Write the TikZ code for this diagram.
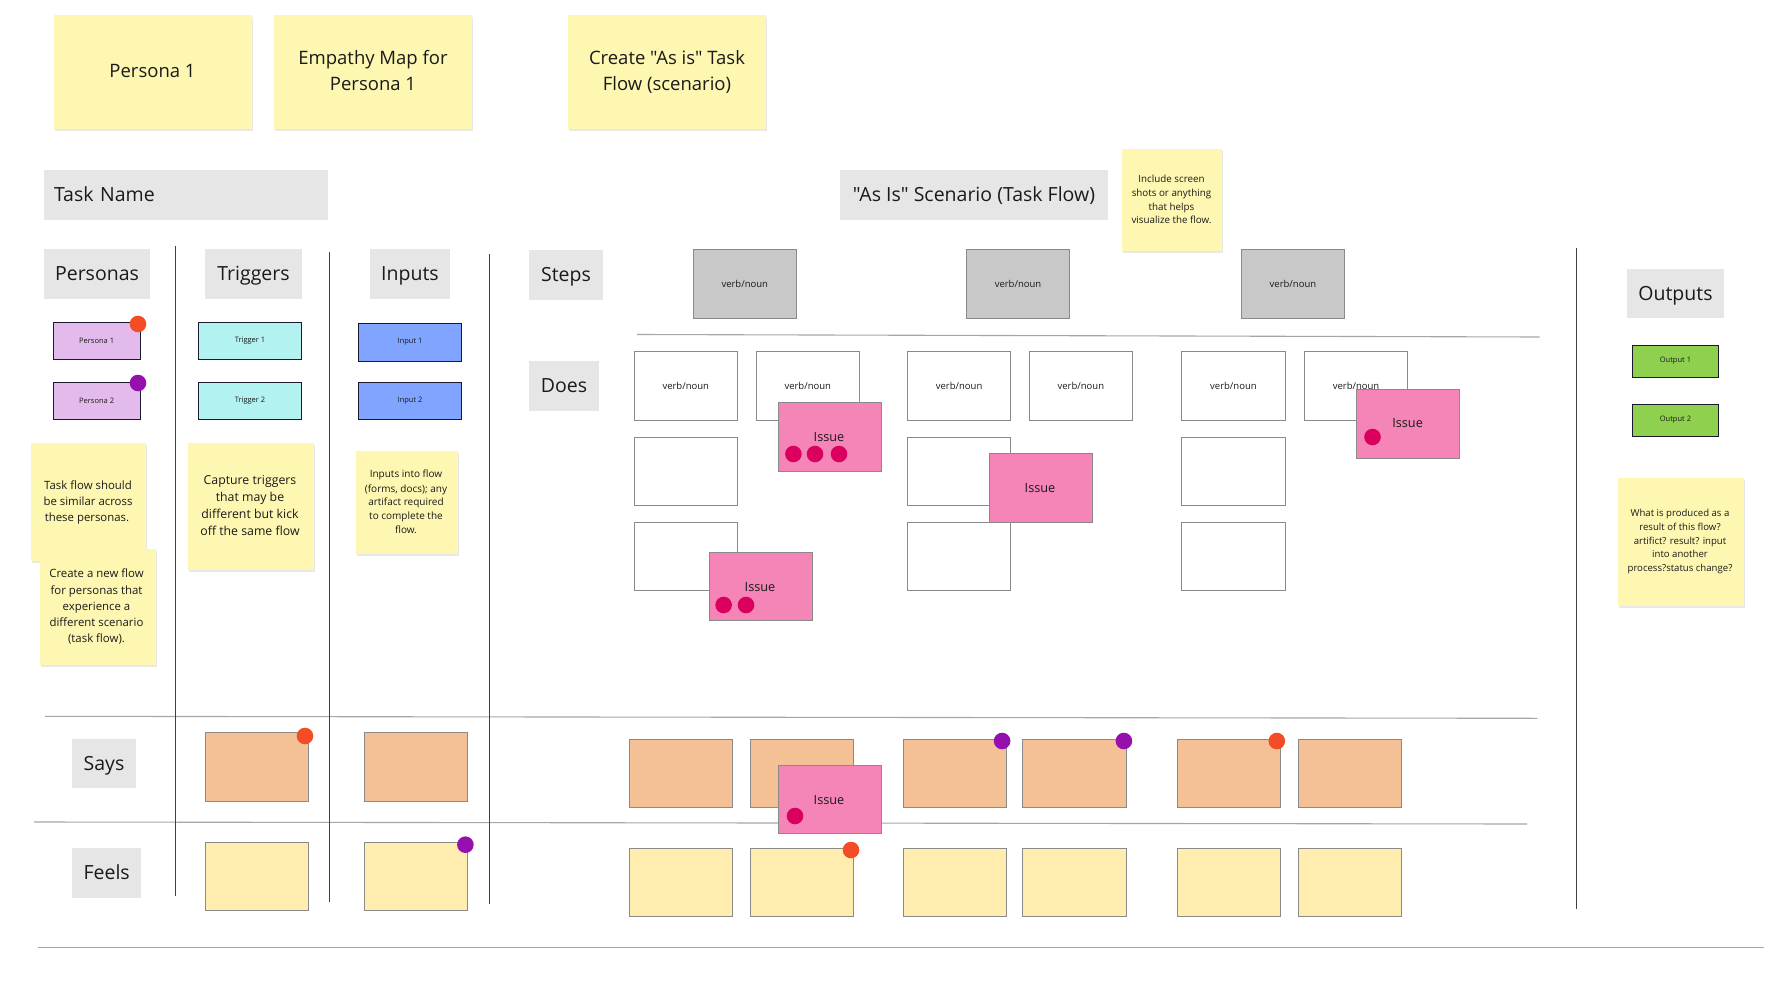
\documentclass[tikz,border=0pt]{standalone}
\usepackage{fontspec}
\setmainfont{Open Sans}[Ligatures=TeXOff]
\usetikzlibrary{shadows}
\definecolor{stickyc}{HTML}{FEF7B1}
\definecolor{headc}{HTML}{E6E6E6}
\definecolor{stepc}{HTML}{C8C8C8}
\definecolor{perc}{HTML}{E3BAEC}
\definecolor{trigc}{HTML}{B2F2F0}
\definecolor{inpc}{HTML}{80A4FF}
\definecolor{outc}{HTML}{8FD14F}
\definecolor{issuec}{HTML}{F485B6}
\definecolor{saysc}{HTML}{F4C095}
\definecolor{feelsc}{HTML}{FEEDAE}
\definecolor{dotr}{HTML}{DB005F}
\definecolor{doto}{HTML}{F44C26}
\definecolor{dotp}{HTML}{9510AC}
\definecolor{edgec}{HTML}{8A8A8A}
\definecolor{darkc}{HTML}{1A1A2E}
\definecolor{txt}{HTML}{1A1A1A}
\newcommand{\fs}[1]{\fontsize{#1}{#1}\selectfont}
\newcommand{\bx}[7]{\node[#2,minimum width={(#5-#3)*1pt},minimum height={(#6-#4)*1pt}] (#1) at ({(#3+#5)/2},{-(#4+#6)/2}) {#7};}
\newcommand{\dt}[4]{\node[dotnode,fill=#2] (#1) at (#3,-#4) {};}
\newcommand{\lbl}[5]{\node[font=\fs{#5},text height={#5*.85pt},text depth={#5*.10pt}] (#1) at (#3,-#4) {#2};}
\tikzset{
  x=1pt,y=1pt,
  every node/.style={inner sep=0pt,outer sep=0pt,text=txt,align=center},
  sticky/.style={fill=stickyc,drop shadow={shadow xshift=1pt,shadow yshift=-2pt,opacity=.18}},
  head/.style={fill=headc,font=\fs{19.5},text height=16.5pt,text depth=2.7pt},
  stepbox/.style={fill=stepc,draw=edgec,line width=1pt,font=\fs{9.5},text height=8.8pt,text depth=.5pt},
  doesbox/.style={fill=white,draw=edgec,line width=.9pt,font=\fs{9.5},text height=8.8pt,text depth=.5pt},
  perbox/.style={fill=perc,draw=darkc,line width=1pt,font=\fs{7.5}},
  trigbox/.style={fill=trigc,draw=darkc,line width=1pt,font=\fs{7.5}},
  inpbox/.style={fill=inpc,draw=darkc,line width=1pt,font=\fs{7.5}},
  outbox/.style={fill=outc,draw=darkc,line width=1pt,font=\fs{7.5}},
  issuebox/.style={fill=issuec,draw=edgec,line width=.9pt},
  saysbox/.style={fill=saysc,draw=edgec,line width=1pt},
  feelsbox/.style={fill=feelsc,draw=edgec,line width=1pt},
  dotnode/.style={circle,minimum size=16.6pt},
  vline/.style={draw=black!75,line width=.9pt},
  hline/.style={draw=black!35,line width=1.1pt}
}
\begin{document}
\begin{tikzpicture}
\useasboundingbox (0,0) rectangle (1778,-990);
\fill[white] (0,0) rectangle (1778,-990);
% lines
\coordinate (v1a) at (175.4,-246);  \coordinate (v1b) at (175.4,-896);
\coordinate (v2a) at (329,-252);    \coordinate (v2b) at (329,-902);
\coordinate (v3a) at (489,-254);    \coordinate (v3b) at (489,-904);
\coordinate (v4a) at (1576.4,-248); \coordinate (v4b) at (1576.4,-909);
\coordinate (h1a) at (637,-334.5);  \coordinate (h1b) at (1539.6,-337);
\coordinate (h2a) at (45,-716.3);   \coordinate (h2b) at (1537.3,-718.3);
\coordinate (h3a) at (34,-822);     \coordinate (h3b) at (1527,-824);
\coordinate (h4a) at (37.5,-947.3); \coordinate (h4b) at (1763.8,-947.3);
\draw[hline] (h1a)--(h1b); \draw[hline] (h2a)--(h2b); \draw[hline] (h3a)--(h3b); \draw[hline] (h4a)--(h4b);
\draw[vline] (v1a)--(v1b); \draw[vline] (v2a)--(v2b); \draw[vline] (v3a)--(v3b); \draw[vline] (v4a)--(v4b);
% top stickies
\bx{s1}{sticky}{54}{15}{252}{129}{}
\lbl{s1a}{Persona 1}{152.5}{70.6}{18.5}
\bx{s2}{sticky}{274}{15}{472}{129}{}
\lbl{s2a}{Empathy Map for}{373}{57.3}{18.5}
\lbl{s2b}{Persona 1}{373}{83.3}{18.5}
\bx{s3}{sticky}{568}{15}{766}{129}{}
\lbl{s3a}{Create "As is" Task}{667}{57.3}{18.5}
\lbl{s3b}{Flow (scenario)}{667}{83.3}{18.5}
% heads
\bx{hTask}{head,text width=264pt,align=left}{44}{170}{328}{220}{Task Name}
\bx{hAs}{head}{840}{170}{1108}{220}{"As Is" Scenario (Task Flow)}
\bx{nInc}{sticky}{1122.2}{149}{1221.9}{251}{}
\lbl{nIa}{Include screen}{1171.5}{178.7}{9.8}
\lbl{nIb}{shots or anything}{1171.5}{192.7}{9.8}
\lbl{nIc}{that helps}{1171.5}{206.7}{9.8}
\lbl{nId}{visualize the flow.}{1171.5}{219.7}{9.8}
\bx{hPer}{head}{44}{249}{150}{299}{Personas}
\bx{hTrig}{head}{205}{249}{302}{299}{Triggers}
\bx{hInp}{head}{370}{249}{450}{299}{Inputs}
\bx{hSteps}{head}{529}{250}{603}{300}{Steps}
\bx{hDoes}{head}{529}{361}{599}{411}{Does}
\bx{hOut}{head}{1626.8}{269}{1724.2}{318}{Outputs}
\bx{hSays}{head}{72}{739}{136}{788}{Says}
\bx{hFeels}{head}{72}{848}{141.3}{898}{Feels}
% small boxes
\bx{p1}{perbox}{53.3}{322}{140}{359}{Persona 1}
\bx{p2}{perbox}{53.3}{382}{140}{419}{Persona 2}
\bx{t1}{trigbox}{198.6}{322}{301.4}{359}{Trigger 1}
\bx{t2}{trigbox}{198.6}{382}{301.4}{419}{Trigger 2}
\bx{i1}{inpbox}{358.7}{323}{461.4}{361}{Input 1}
\bx{i2}{inpbox}{358.7}{382}{461.4}{419}{Input 2}
\bx{o1}{outbox}{1632.4}{345}{1718.5}{377}{Output 1}
\bx{o2}{outbox}{1632.4}{404}{1718.5}{436}{Output 2}
% notes
\bx{n1}{sticky}{30.6}{443}{146.4}{560.7}{}
\lbl{n1a}{Task flow should}{88}{485}{11.4}
\lbl{n1b}{be similar across}{88}{501}{11.4}
\lbl{n1c}{these personas.}{87}{517}{11.4}
\bx{n2}{sticky}{40}{548.7}{156}{665}{}
\lbl{n2a}{Create a new flow}{96.5}{573.7}{11.4}
\lbl{n2b}{for personas that}{96.5}{590}{11.4}
\lbl{n2c}{experience a}{96.5}{606}{11.4}
\lbl{n2d}{different scenario}{96.5}{622}{11.4}
\lbl{n2e}{(task flow).}{96.5}{638}{11.4}
\bx{n3}{sticky}{188}{443}{314}{570}{}
\lbl{n3a}{Capture triggers}{250}{480}{12.3}
\lbl{n3b}{that may be}{250}{497}{12.3}
\lbl{n3c}{different but kick}{250}{513.5}{12.3}
\lbl{n3d}{off the same flow}{250}{531}{12.3}
\bx{n4}{sticky}{356}{451}{458}{553.7}{}
\lbl{n4a}{Inputs into flow}{406}{473.5}{10}
\lbl{n4b}{(forms, docs); any}{406}{488.5}{10}
\lbl{n4c}{artifact required}{406}{502.2}{10}
\lbl{n4d}{to complete the}{406}{515.5}{10}
\lbl{n4e}{flow.}{406}{529.5}{10}
\bx{n5}{sticky}{1618.3}{478}{1744}{605.7}{}
\lbl{n5a}{What is produced as a}{1680}{512.7}{9.6}
\lbl{n5b}{result of this flow?}{1680}{526.7}{9.6}
\lbl{n5c}{artifict? result? input}{1680}{540.7}{9.6}
\lbl{n5d}{into another}{1680}{553.7}{9.6}
\lbl{n5e}{process?status change?}{1680}{567.7}{9.6}
% steps
\bx{st1}{stepbox}{693.5}{249}{796}{318}{verb/noun}
\bx{st2}{stepbox}{966.5}{249}{1069.5}{318}{verb/noun}
\bx{st3}{stepbox}{1241.7}{249}{1344.2}{318}{verb/noun}
% does
\bx{d11}{doesbox}{634.5}{351}{737}{420}{verb/noun}
\bx{d12}{doesbox}{756.5}{351}{859}{420}{verb/noun}
\bx{d13}{doesbox}{907.6}{351}{1010.6}{420}{verb/noun}
\bx{d14}{doesbox}{1029.3}{351}{1132.4}{420}{verb/noun}
\bx{d15}{doesbox}{1181.6}{351}{1285.3}{420}{verb/noun}
\bx{d16}{doesbox}{1304.5}{351}{1407.6}{420}{verb/noun}
\bx{d21}{doesbox}{634.5}{437}{737}{505}{}
\bx{d22}{doesbox}{907.6}{437}{1010.6}{505}{}
\bx{d23}{doesbox}{1181.6}{437}{1285.3}{505}{}
\bx{d31}{doesbox}{634.5}{522}{737}{590}{}
\bx{d32}{doesbox}{907.6}{522}{1010.6}{590}{}
\bx{d33}{doesbox}{1181.6}{522}{1285.3}{590}{}
% says
\bx{sl1}{saysbox}{205.4}{732}{308}{801}{}
\bx{sl2}{saysbox}{364}{732}{467.7}{801}{}
\bx{sa1}{saysbox}{629.4}{739}{732}{807}{}
\bx{sa2}{saysbox}{750}{739}{853.6}{807}{}
\bx{sa3}{saysbox}{903.6}{739}{1006.7}{807}{}
\bx{sa4}{saysbox}{1022.5}{739}{1126.2}{807}{}
\bx{sa5}{saysbox}{1177.7}{739}{1280.8}{807}{}
\bx{sa6}{saysbox}{1298.3}{739}{1401.4}{807}{}
% feels
\bx{fl1}{feelsbox}{205.4}{842}{308}{910}{}
\bx{fl2}{feelsbox}{364}{842}{467.7}{910}{}
\bx{fa1}{feelsbox}{629.4}{848}{732}{916}{}
\bx{fa2}{feelsbox}{750}{848}{853.6}{916}{}
\bx{fa3}{feelsbox}{903.6}{848}{1006.7}{916}{}
\bx{fa4}{feelsbox}{1022.5}{848}{1126.2}{916}{}
\bx{fa5}{feelsbox}{1177.7}{848}{1280.8}{916}{}
\bx{fa6}{feelsbox}{1298.3}{848}{1401.4}{916}{}
% issues
\bx{ia}{issuebox}{778}{402}{881}{471}{}
\lbl{iat}{Issue}{829}{437}{12.7}
\bx{ib}{issuebox}{989.7}{453}{1092.2}{522}{}
\lbl{ibt}{Issue}{1040}{488}{12.7}
\bx{ic}{issuebox}{1356.6}{389}{1459.1}{458}{}
\lbl{ict}{Issue}{1407.6}{423}{12.7}
\bx{id}{issuebox}{709.4}{552}{812}{620}{}
\lbl{idt}{Issue}{760}{587}{12.7}
\bx{ie}{issuebox}{778.6}{765}{881}{833}{}
\lbl{iet}{Issue}{829}{800}{12.7}
% dots
\dt{da1}{dotr}{793.4}{454}\dt{da2}{dotr}{815}{454}\dt{da3}{dotr}{839}{454}
\dt{dc1}{dotr}{1372.5}{437}
\dt{dd1}{dotr}{723.6}{605}\dt{dd2}{dotr}{746}{605}
\dt{de1}{dotr}{795}{816}
\dt{x1}{doto}{138}{324}
\dt{x2}{dotp}{138}{383}
\dt{x3}{doto}{305}{736}
\dt{x4}{dotp}{465.4}{844.7}
\dt{x5}{doto}{851}{850}
\dt{x6}{dotp}{1002.1}{741}
\dt{x7}{dotp}{1123.9}{741}
\dt{x8}{doto}{1276.8}{741}
\end{tikzpicture}
\end{document}
